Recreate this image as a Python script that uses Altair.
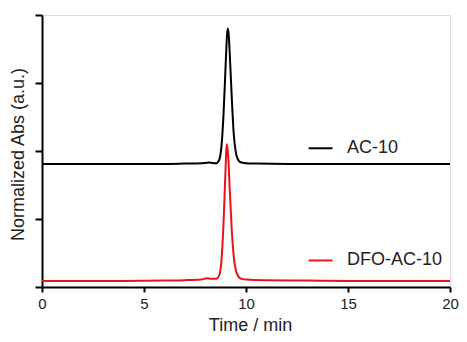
import altair as alt
import pandas as pd

# AC-10 trace (black)
ac_t = [0, 2, 4, 6, 7, 7.8, 8.2, 8.5, 8.6, 8.7, 8.8, 8.9, 9.0, 9.05, 9.1, 9.15, 9.2, 9.3, 9.4, 9.5, 9.6, 9.7, 9.8, 10.0, 10.5, 12, 15, 17, 20]
ac_v = [1.81, 1.81, 1.81, 1.81, 1.815, 1.82, 1.83, 1.82, 1.83, 1.88, 2.08, 2.55, 3.25, 3.6, 3.8, 3.72, 3.45, 2.8, 2.25, 1.98, 1.88, 1.84, 1.83, 1.82, 1.815, 1.81, 1.81, 1.81, 1.81]

# DFO-AC-10 trace (red)
dfo_t = [0, 2, 4, 6, 7, 7.8, 8.1, 8.3, 8.5, 8.6, 8.7, 8.8, 8.9, 9.0, 9.05, 9.1, 9.15, 9.2, 9.3, 9.4, 9.5, 9.6, 9.7, 9.8, 10.0, 11, 13, 15, 20]
dfo_v = [0.09, 0.09, 0.09, 0.095, 0.10, 0.11, 0.13, 0.12, 0.12, 0.13, 0.18, 0.40, 0.95, 1.75, 2.10, 2.02, 1.80, 1.45, 0.85, 0.45, 0.25, 0.17, 0.13, 0.12, 0.11, 0.10, 0.095, 0.09, 0.09]

series = ["AC-10", "DFO-AC-10"]
colors = ["#000000", "#e8141b"]

# legend annotation positions (data units)
leg_x1 = [13.07, 13.07]
leg_x2 = [14.24, 14.24]
leg_y = [2.04, 0.39]
leg_tx = [14.95, 14.95]

rows = []
for t, v in zip(ac_t, ac_v):
    rows.append({"t": t, "v": v, "s": series[0]})
for t, v in zip(dfo_t, dfo_v):
    rows.append({"t": t, "v": v, "s": series[1]})
df = pd.DataFrame(rows)

leg = pd.DataFrame({"s": series, "x1": leg_x1, "x2": leg_x2, "y": leg_y, "tx": leg_tx})

font = "Liberation Sans"
xscale = alt.Scale(domain=[0, 20], nice=False, zero=False)
yscale = alt.Scale(domain=[0, 4], nice=False)
cscale = alt.Scale(domain=series, range=colors)

lines = alt.Chart(df).mark_line(strokeWidth=2, interpolate="monotone").encode(
    x=alt.X("t:Q", scale=xscale, axis=alt.Axis(
        title="Time / min", values=[0, 5, 10, 15, 20], format="d",
        tickSize=5, labelPadding=4, grid=False, domainWidth=2, tickWidth=2,
        domainColor="#000", tickColor="#000", labelColor="#222", labelFontSize=15,
        labelFont=font, titleFont=font, titleFontSize=18, titleFontWeight="normal",
        titleColor="#222", titleBaseline="middle", titleY=38, titleX=208, titleAnchor="start",
        titleAlign="center", labelFlush=False)),
    y=alt.Y("v:Q", scale=yscale, axis=alt.Axis(
        title="Normalized Abs (a.u.)", values=[0, 1, 2, 3, 4], labels=False,
        tickSize=7, grid=False, domainWidth=2, tickWidth=2, domainColor="#000",
        tickColor="#000", titleFont=font, titleFontSize=18, titleFontWeight="normal",
        titleColor="#222", titleAngle=270, titleBaseline="middle", titleAlign="center",
        titleX=-24, titleY=139)),
    color=alt.Color("s:N", scale=cscale, legend=None),
    detail="s:N",
)

legrule = alt.Chart(leg).mark_rule(strokeWidth=2).encode(
    x=alt.X("x1:Q", scale=xscale), x2="x2:Q", y=alt.Y("y:Q", scale=yscale),
    color=alt.Color("s:N", scale=cscale, legend=None),
)
legtext = alt.Chart(leg).mark_text(align="left", baseline="middle", fontSize=18, font=font, color="#222").encode(
    x=alt.X("tx:Q", scale=xscale), y=alt.Y("y:Q", scale=yscale), text="s:N",
)

chart = alt.layer(lines, legrule, legtext).properties(
    width=408, height=272,
    autosize=alt.AutoSizeParams(type="none"),
    padding={"left": 34, "top": 7, "right": 9, "bottom": 47},
).configure_view(stroke=None).configure(background="white")

chart.save("out.html", embed_options={"renderer": "svg", "actions": False})
